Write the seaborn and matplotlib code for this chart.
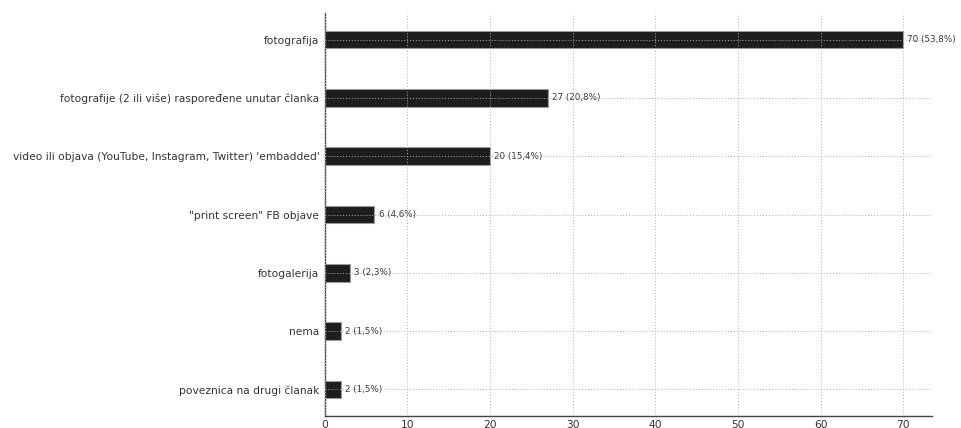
import matplotlib
matplotlib.use("Agg")
import matplotlib.pyplot as plt
import seaborn as sns
import pandas as pd

categories = [
    "fotografija",
    "fotografije (2 ili više) raspoređene unutar članka",
    "video ili objava (YouTube, Instagram, Twitter) 'embadded'",
    "\"print screen\" FB objave",
    "fotogalerija",
    "nema",
    "poveznica na drugi članak",
]
counts = [70, 27, 20, 6, 3, 2, 2]
percents = ["53,8%", "20,8%", "15,4%", "4,6%", "2,3%", "1,5%", "1,5%"]

df = pd.DataFrame({"kategorija": categories, "broj": counts})

sns.set_style("white")
plt.rcParams["font.family"] = ["DejaVu Sans"]

fig = plt.figure(figsize=(9.61, 4.28), dpi=100)
ax = fig.add_axes([0.338, 0.029, 0.632, 0.941])

sns.barplot(data=df, x="broj", y="kategorija", orient="h", color="#1e1c1c",
            width=0.3, edgecolor="#9a9a9a", linewidth=0.8, saturation=1, ax=ax)

for i, (c, p) in enumerate(zip(counts, percents)):
    ax.text(c + 0.5, i, f"{c} ({p})", va="center", ha="left",
            fontsize=6.3, color="#3a3a3a")

ax.set_xlim(0, 73.5)
ax.set_ylim(6.45, -0.46)
ax.set_xticks(range(0, 71, 10))
ax.set_xlabel("")
ax.set_ylabel("")
ax.grid(True, linestyle=(0, (1, 2)), color="#b0b0b0", linewidth=0.7)
ax.set_axisbelow(False)
for s in ["top", "right"]:
    ax.spines[s].set_visible(False)
for s in ["left", "bottom"]:
    ax.spines[s].set_color("#444444")
    ax.spines[s].set_linewidth(1.0)
ax.tick_params(axis="y", labelsize=7.7, length=0, pad=4, labelcolor="#333333")
ax.tick_params(axis="x", labelsize=7.7, length=3, direction="in", pad=3,
               labelcolor="#333333", color="#888888")

fig.savefig("out.png", dpi=100)
